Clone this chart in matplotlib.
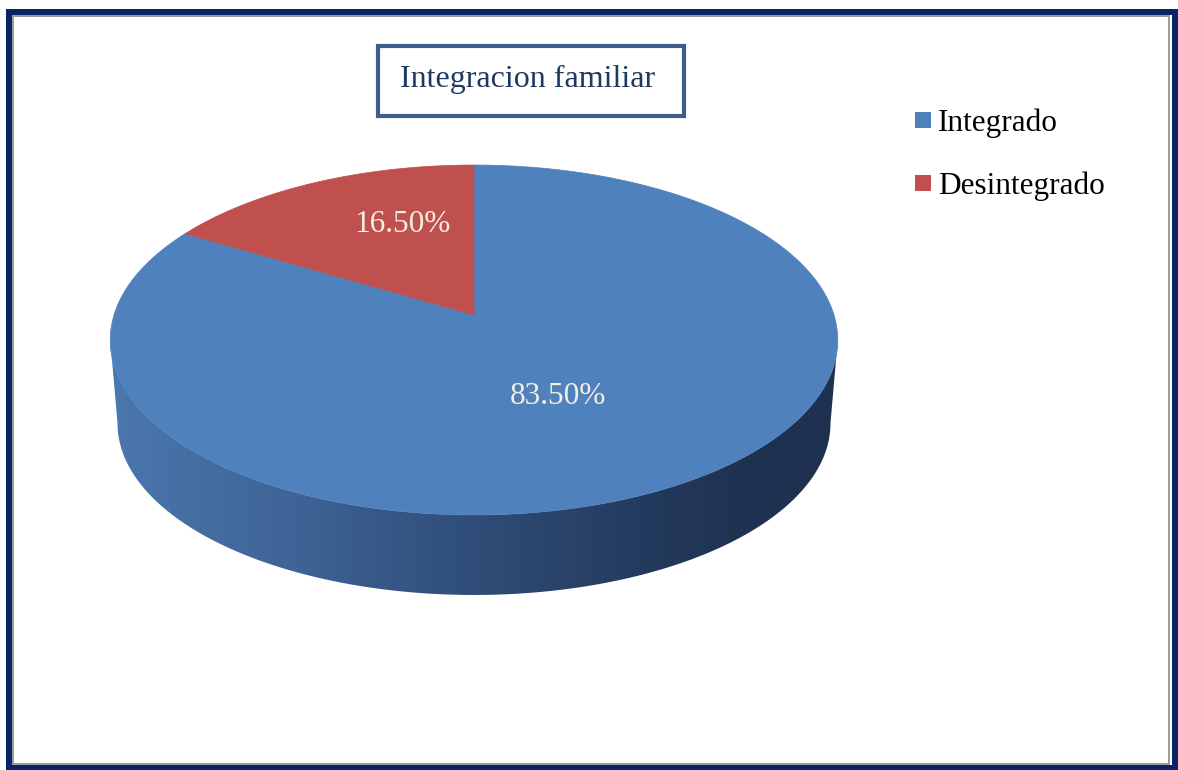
import matplotlib.pyplot as plt
import numpy as np
from matplotlib.patches import Polygon, Rectangle
from matplotlib.colors import LinearSegmentedColormap

plt.rcParams['font.family'] = ['Liberation Serif', 'DejaVu Serif']

title = "Integracion familiar"
labels = ['Integrado', 'Desintegrado']
values = [83.5, 16.5]
pct_labels = ['83.50%', '16.50%']
colors = ['#4F81BD', '#C0504D']

# pie geometry in pixels (perspective disk)
cx, cy = 474, 315
a, b, k = 360, 171.4, 1 / 7
depth, shrink = 84, 0.98


def proj(t, r=1.0, s=1.0, dy=0.0):
    u, v = r * np.cos(t), r * np.sin(t)
    w = 1 + k * v
    return cx + a * s * u / w, cy - b * s * v / w + dy


fig = plt.figure(figsize=(11.78, 7.70), dpi=100)
ax = fig.add_axes([0, 0, 1, 1])

# side of the cylinder (front half), gradient filled
t1 = np.pi + np.arcsin(k)
t2 = 2 * np.pi - np.arcsin(k)
ts = np.linspace(t1, t2, 300)
tx, ty = proj(ts)
bx, by = proj(ts[::-1], s=shrink, dy=depth)
side = Polygon(np.column_stack([np.r_[tx, bx], np.r_[ty, by]]),
               closed=True, facecolor='none', edgecolor='none')
ax.add_patch(side)
side_cmap = LinearSegmentedColormap.from_list(
    'side', [(0.0, '#4B78AE'), (0.25, '#3F6497'), (0.5, '#2F4D77'),
             (0.75, '#23395C'), (0.88, '#1F3150'), (1.0, '#1F3150')])
grad = np.linspace(0, 1, 400).reshape(1, -1)
img = ax.imshow(grad, cmap=side_cmap, aspect='auto',
                extent=(105, 845, 610, 320), zorder=1)
img.set_clip_path(side)

# top face slices: start at 12 o'clock, clockwise
start = np.pi / 2
total = sum(values)
for val, col in zip(values, colors):
    sweep = 2 * np.pi * val / total
    tt = np.linspace(start, start - sweep, 400)
    px, py = proj(tt)
    wedge = Polygon(np.column_stack([np.r_[cx, px], np.r_[cy, py]]),
                    closed=True, facecolor=col, edgecolor=col, lw=0.5, zorder=2)
    ax.add_patch(wedge)
    start -= sweep

# data labels
label_xy = [(558, 404), (402, 232)]
for txt, (lx, ly) in zip(pct_labels, label_xy):
    ax.text(lx, ly, txt, color='#F3EFE2', fontsize=22.5,
            ha='center', va='baseline', zorder=3)

# title box
ax.add_patch(Rectangle((378, 46), 306, 70, facecolor='white',
                       edgecolor='#3B5E8C', lw=3.0, zorder=3))
ax.text(400, 87, title, color='#1F3A60', fontsize=23,
        ha='left', va='baseline', zorder=4)

# legend
leg_y = [112, 175]
for lab, col, y in zip(labels, colors, leg_y):
    ax.add_patch(Rectangle((915, y), 16, 16, facecolor=col,
                           edgecolor='none', zorder=3))
    ax.text(938, y + 19, lab, color='black', fontsize=22.5,
            ha='left', va='baseline', zorder=3)

# frame: navy outer border with grey inner line
ax.add_patch(Rectangle((9, 12), 1166, 756, facecolor='none',
                       edgecolor='#0B2263', lw=4.3, zorder=5))
ax.add_patch(Rectangle((13, 16), 1156, 748, facecolor='none',
                       edgecolor='#9A9A9A', lw=1.4, zorder=5))

ax.set_xlim(0, 1178)
ax.set_ylim(770, 0)
ax.axis('off')

fig.savefig('out.png', dpi=100, facecolor='white')
